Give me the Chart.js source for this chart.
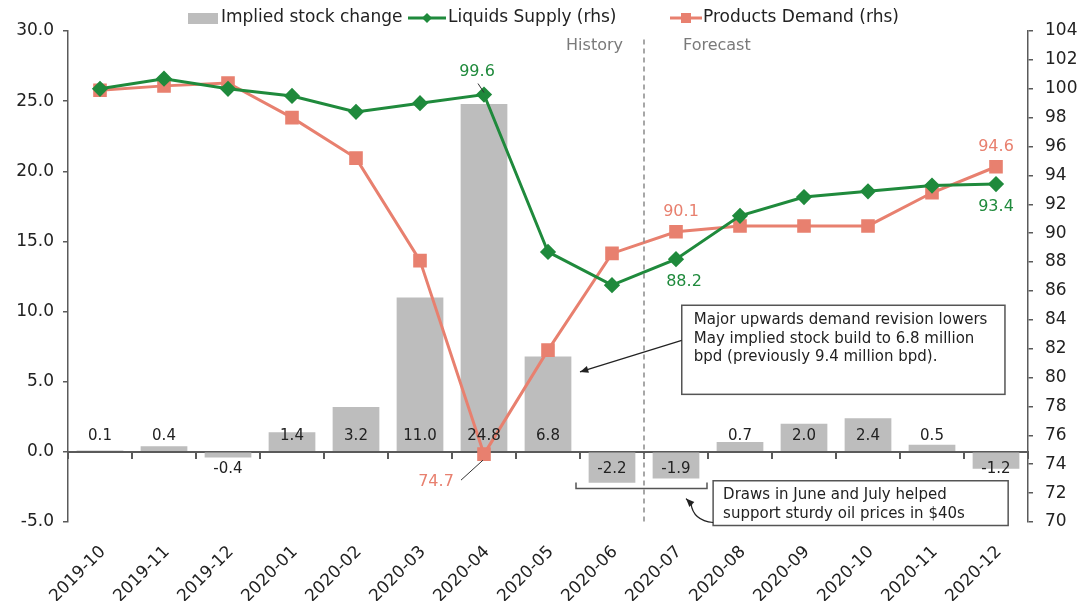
<!DOCTYPE html>
<html><head><meta charset="utf-8">
<script src="https://cdn.jsdelivr.net/npm/chart.js@4.4.0/dist/chart.umd.min.js"></script>
<style>html,body{margin:0;padding:0;background:#fff;}#wrap{width:1090px;height:601px;position:relative;}</style>
</head><body><div id="wrap"><canvas id="c" width="1090" height="601"></canvas></div>
<script>
const categories = ['2019-10','2019-11','2019-12','2020-01','2020-02','2020-03','2020-04','2020-05','2020-06','2020-07','2020-08','2020-09','2020-10','2020-11','2020-12'];
const stockChange = [0.1, 0.4, -0.4, 1.4, 3.2, 11.0, 24.8, 6.8, -2.2, -1.9, 0.7, 2.0, 2.4, 0.5, -1.2];
const liquidsSupply = [100.0, 100.7, 100.0, 99.5, 98.4, 99.0, 99.6, 88.7, 86.4, 88.2, 91.2, 92.5, 92.9, 93.3, 93.4];
const productsDemand = [99.9, 100.2, 100.4, 98.0, 95.2, 88.1, 74.7, 81.9, 88.6, 90.1, 90.5, 90.5, 90.5, 92.8, 94.6];
const leftTickValues = [-5, 0, 5, 10, 15, 20, 25, 30];
const rightTickValues = [70, 72, 74, 76, 78, 80, 82, 84, 86, 88, 90, 92, 94, 96, 98, 100, 102, 104];
const seriesNames = ['Implied stock change', 'Liquids Supply (rhs)', 'Products Demand (rhs)'];

const GREEN = '#1f8a3c', RED = '#e8806f', GRAY = '#bdbdbd', AXIS = '#5a5a5a', TXT = '#222';
const FONT = "'DejaVu Sans', Verdana, sans-serif";
Chart.defaults.font.family = FONT;
Chart.defaults.color = TXT;

function arrow(ctx, x1, y1, x2, y2, head) {
  ctx.beginPath(); ctx.moveTo(x1, y1); ctx.lineTo(x2, y2); ctx.stroke();
  const a = Math.atan2(y2 - y1, x2 - x1);
  ctx.beginPath();
  ctx.moveTo(x2, y2);
  ctx.lineTo(x2 - head * Math.cos(a - 0.4), y2 - head * Math.sin(a - 0.4));
  ctx.lineTo(x2 - head * Math.cos(a + 0.4), y2 - head * Math.sin(a + 0.4));
  ctx.closePath(); ctx.fill();
}

const annot = {
  id: 'annot',
  afterDatasetsDraw(chart) {
    const ctx = chart.ctx, xs = chart.scales.x, ys = chart.scales.y, y1 = chart.scales.y1;
    const X = v => xs.getPixelForValue(v), Y = v => ys.getPixelForValue(v), Y1 = v => y1.getPixelForValue(v);
    ctx.save();
    // bar labels
    ctx.font = '15px ' + FONT; ctx.fillStyle = TXT; ctx.textAlign = 'center'; ctx.textBaseline = 'middle';
    const meta = chart.getDatasetMeta(0);
    meta.data.forEach((bar, i) => {
      const v = stockChange[i];
      ctx.fillText(v.toFixed(1), bar.x, v >= 0 ? Y(0) - 16 : Y(0) + 17);
    });
    // line labels
    ctx.font = '16px ' + FONT;
    const lab = (txt, col, i, v, dx, dy) => { ctx.fillStyle = col; ctx.fillText(txt, X(i) + dx, Y1(v) + dy); };
    lab(liquidsSupply[6].toFixed(1), GREEN, 6, liquidsSupply[6], -7, -23);
    lab(productsDemand[6].toFixed(1), RED, 6, productsDemand[6], -48, 28);
    lab(productsDemand[9].toFixed(1), RED, 9, productsDemand[9], 5, -20);
    lab(liquidsSupply[9].toFixed(1), GREEN, 9, liquidsSupply[9], 8, 23);
    lab(productsDemand[14].toFixed(1), RED, 14, productsDemand[14], 0, -20);
    lab(liquidsSupply[14].toFixed(1), GREEN, 14, liquidsSupply[14], 0, 23);
    // leaders
    ctx.strokeStyle = '#333'; ctx.lineWidth = 1;
    ctx.beginPath();
    ctx.moveTo(X(6) - 6, Y1(liquidsSupply[6]) - 11); ctx.lineTo(X(6), Y1(liquidsSupply[6]) - 2);
    ctx.moveTo(X(6) - 23, Y1(productsDemand[6]) + 26); ctx.lineTo(X(6) - 1, Y1(productsDemand[6]) + 6);
    ctx.stroke();
    ctx.restore();
  },
  afterDraw(chart) {
    const ctx = chart.ctx, xs = chart.scales.x, ys = chart.scales.y;
    const X = v => xs.getPixelForValue(v), Y = v => ys.getPixelForValue(v);
    ctx.save();
    // legend
    ctx.font = '17px ' + FONT; ctx.textBaseline = 'middle'; ctx.textAlign = 'left'; ctx.fillStyle = TXT;
    const ly = 18;
    ctx.fillStyle = GRAY; ctx.fillRect(188, 13, 30, 11);
    ctx.fillStyle = TXT; ctx.fillText(seriesNames[0], 221, ly);
    ctx.strokeStyle = GREEN; ctx.lineWidth = 3;
    ctx.beginPath(); ctx.moveTo(408, ly); ctx.lineTo(446, ly); ctx.stroke();
    ctx.fillStyle = GREEN; ctx.beginPath(); ctx.moveTo(427, ly - 5); ctx.lineTo(432, ly); ctx.lineTo(427, ly + 5); ctx.lineTo(422, ly); ctx.closePath(); ctx.fill();
    ctx.fillStyle = TXT; ctx.fillText(seriesNames[1], 448, ly);
    ctx.strokeStyle = RED;
    ctx.beginPath(); ctx.moveTo(670, ly); ctx.lineTo(702, ly); ctx.stroke();
    ctx.fillStyle = RED; ctx.fillRect(681, ly - 5, 10, 10);
    ctx.fillStyle = TXT; ctx.fillText(seriesNames[2], 703, ly);
    // history / forecast divider
    const xd = (X(8) + X(9)) / 2;
    ctx.strokeStyle = '#8a8a8a'; ctx.lineWidth = 1.5; ctx.setLineDash([5, 4]);
    ctx.beginPath(); ctx.moveTo(xd, Y(29.4)); ctx.lineTo(xd, Y(-5.2)); ctx.stroke();
    ctx.setLineDash([]);
    ctx.font = '16px ' + FONT; ctx.fillStyle = '#7a7a7a';
    ctx.textAlign = 'right'; ctx.fillText('History', xd - 21, Y(28.95));
    ctx.textAlign = 'left'; ctx.fillText('Forecast', xd + 39, Y(28.95));
    // box 1
    const b1l = X(9.09), b1r = X(14.14), b1t = Y(10.45), b1b = Y(4.1);
    ctx.fillStyle = '#fff'; ctx.fillRect(b1l, b1t, b1r - b1l, b1b - b1t);
    ctx.strokeStyle = '#555'; ctx.lineWidth = 1.5; ctx.strokeRect(b1l, b1t, b1r - b1l, b1b - b1t);
    ctx.fillStyle = TXT; ctx.font = '15px ' + FONT; ctx.textAlign = 'left';
    ['Major upwards demand revision lowers', 'May implied stock build to 6.8 million', 'bpd (previously 9.4 million bpd).']
      .forEach((t, i) => ctx.fillText(t, b1l + 12, b1t + 15 + i * 18.5));
    ctx.strokeStyle = '#222'; ctx.fillStyle = '#222'; ctx.lineWidth = 1.2;
    arrow(ctx, b1l, Y(7.95), X(7.5), Y(5.7), 9);
    // bracket
    const bl = X(7.5) - 4, br = X(9.5) - 1, by = Y(-2.62);
    ctx.strokeStyle = '#555'; ctx.lineWidth = 1.5;
    ctx.beginPath(); ctx.moveTo(bl, by - 6); ctx.lineTo(bl, by); ctx.lineTo(br, by); ctx.lineTo(br, by - 6); ctx.stroke();
    // box 2
    const b2l = X(9.58), b2r = X(14.19), b2t = Y(-2.06), b2b = Y(-5.25);
    ctx.fillStyle = '#fff'; ctx.fillRect(b2l, b2t, b2r - b2l, b2b - b2t);
    ctx.strokeStyle = '#555'; ctx.strokeRect(b2l, b2t, b2r - b2l, b2b - b2t);
    ctx.fillStyle = TXT;
    ['Draws in June and July helped', 'support sturdy oil prices in $40s'].forEach((t, i) => ctx.fillText(t, b2l + 10, b2t + 14 + i * 19));
    // curved arrow
    ctx.strokeStyle = '#222'; ctx.fillStyle = '#222'; ctx.lineWidth = 1.2;
    const sx = b2l, sy = b2b - 3, ex = br - 21, ey = by + 10;
    ctx.beginPath(); ctx.moveTo(sx, sy); ctx.quadraticCurveTo(sx - 20, sy - 2, ex + 5, ey + 5); ctx.stroke();
    arrow(ctx, ex + 6, ey + 6, ex, ey, 9);
    ctx.restore();
  }
};

new Chart(document.getElementById('c'), {
  data: {
    labels: categories,
    datasets: [
      { type: 'bar', label: seriesNames[0], data: stockChange, backgroundColor: GRAY, yAxisID: 'y', xAxisID: 'x', order: 3,
        barPercentage: 0.73, categoryPercentage: 1.0 },
      { type: 'line', label: seriesNames[1], data: liquidsSupply, borderColor: GREEN, backgroundColor: GREEN, borderWidth: 3,
        pointStyle: 'rectRot', pointRadius: 6, pointHoverRadius: 6, yAxisID: 'y1', xAxisID: 'x', order: 1, tension: 0 },
      { type: 'line', label: seriesNames[2], data: productsDemand, borderColor: RED, backgroundColor: RED, borderWidth: 3,
        pointStyle: 'rect', pointRadius: 7.5, pointHoverRadius: 7.5, yAxisID: 'y1', xAxisID: 'x', order: 2, tension: 0 }
    ]
  },
  options: {
    responsive: false, animation: false,
    layout: { padding: { top: 31, left: 0, right: 0, bottom: 0 } },
    plugins: { legend: { display: false }, tooltip: { enabled: false } },
    scales: {
      x: {
        type: 'category', position: 'bottom', offset: true,
        grid: { display: false, offset: true }, border: { display: false },
        ticks: { font: { size: 17 }, color: TXT, minRotation: 45, maxRotation: 45, padding: 12, labelOffset: 3, autoSkip: false },
        afterFit: s => { s.height = 79; }
      },
      x0: {
        type: 'category', position: { y: 0 }, offset: true,
        grid: { display: true, offset: true, drawOnChartArea: false, drawTicks: true, tickLength: 6, color: AXIS, lineWidth: 2 },
        border: { display: true, color: AXIS, width: 2 },
        ticks: { display: false }
      },
      y: {
        type: 'linear', position: 'left', min: -5, max: 30,
        afterBuildTicks: s => { s.ticks = leftTickValues.map(v => ({ value: v })); },
        ticks: { font: { size: 17 }, color: TXT, padding: 9, callback: v => Number(v).toFixed(1) },
        grid: { display: true, drawOnChartArea: false, drawTicks: true, tickLength: 5, color: AXIS, lineWidth: 1.5 },
        border: { display: true, color: AXIS, width: 1.5 },
        afterFit: s => { s.width = 68; }
      },
      y1: {
        type: 'linear', position: 'right', min: 70, max: 104,
        afterBuildTicks: s => { s.ticks = rightTickValues.map(v => ({ value: v })); },
        ticks: { font: { size: 17 }, color: TXT, padding: 12, callback: v => String(v) },
        grid: { display: true, drawOnChartArea: false, drawTicks: true, tickLength: 5, color: AXIS, lineWidth: 1.5 },
        border: { display: true, color: AXIS, width: 1.5 },
        afterFit: s => { s.width = 62; }
      }
    }
  },
  plugins: [annot]
});
</script></body></html>
